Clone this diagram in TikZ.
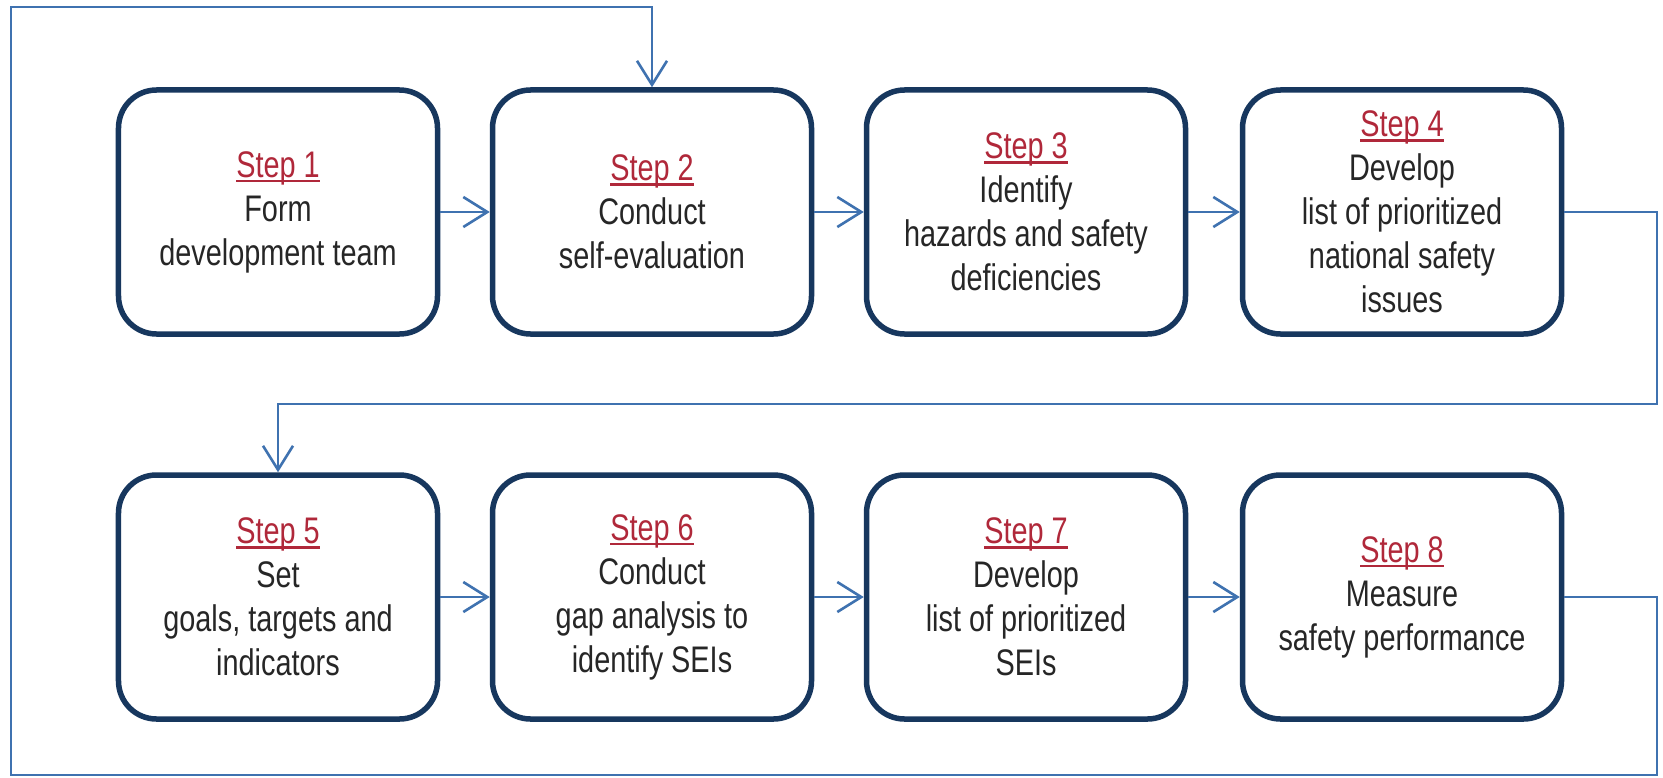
\documentclass[tikz,border=0pt]{standalone}
\usepackage{fontspec}
\setmainfont{Liberation Sans}[FakeStretch=0.78]
\usetikzlibrary{arrows.meta}
\definecolor{boxline}{HTML}{17375E}
\definecolor{linkblue}{HTML}{3F72B0}
\definecolor{stepred}{HTML}{B0283A}
\definecolor{bodytext}{HTML}{262626}
% red step heading with a firm underline just below the baseline
\newcommand{\steplabel}[1]{{\color{stepred}\setbox0\hbox{Step #1}%
  \rlap{\raisebox{-5bp}{\rule{\wd0}{2.4bp}}}\box0}}
\tikzset{
  stepbox/.style={draw=boxline, line width=5.5bp, rounded corners=38bp,
    fill=white, minimum width=319bp, minimum height=244bp, align=center,
    text=bodytext, font=\fontsize{37bp}{44bp}\selectfont, inner sep=0pt},
  link/.style={draw=linkblue, line width=2.6bp,
    -{Straight Barb[length=24bp, width=30bp, line width=2.6bp]}}
}
\begin{document}
\begin{tikzpicture}[x=1bp, y=-1bp]
  \useasboundingbox[fill=white] (0,0) rectangle (1663,778);

  % first row
  \node[stepbox] (s1) at (278,212)  {\steplabel{1}\\Form\\development  team};
  \node[stepbox] (s2) at (652,212)  {\steplabel{2}\\Conduct\\self-evaluation};
  \node[stepbox] (s3) at (1026,212) {\steplabel{3}\\Identify\\hazards and safety\\deficiencies};
  \node[stepbox] (s4) at (1402,212) {\steplabel{4}\\Develop\\list of prioritized\\national safety\\issues};

  % second row
  \node[stepbox] (s5) at (278,597)  {\steplabel{5}\\Set\\goals, targets and\\indicators};
  \node[stepbox] (s6) at (652,597)  {\steplabel{6}\\Conduct\\gap analysis to\\identify SEIs};
  \node[stepbox] (s7) at (1026,597) {\steplabel{7}\\Develop\\list of prioritized\\SEIs};
  \node[stepbox] (s8) at (1402,597) {\steplabel{8}\\Measure\\safety performance};

  % guide coordinates for the routed connectors
  \coordinate (rx) at (1657,0);
  \coordinate (lx) at (11,0);
  \coordinate (ym) at (0,404);
  \coordinate (yb) at (0,775);
  \coordinate (yt) at (0,7);

  % straight connectors
  \draw[link] (s1) -- (s2);
  \draw[link] (s2) -- (s3);
  \draw[link] (s3) -- (s4);
  \draw[link] (s5) -- (s6);
  \draw[link] (s6) -- (s7);
  \draw[link] (s7) -- (s8);

  % row change: step 4 to step 5
  \draw[link] (s4.east) -- (s4.east -| rx) -- (rx |- ym)
    -- (s5.north |- ym) -- (s5.north);

  % loop back: step 8 to step 2
  \draw[link] (s8.east) -- (s8.east -| rx) -- (rx |- yb) -- (lx |- yb)
    -- (lx |- yt) -- (s2.north |- yt) -- (s2.north);
\end{tikzpicture}
\end{document}
